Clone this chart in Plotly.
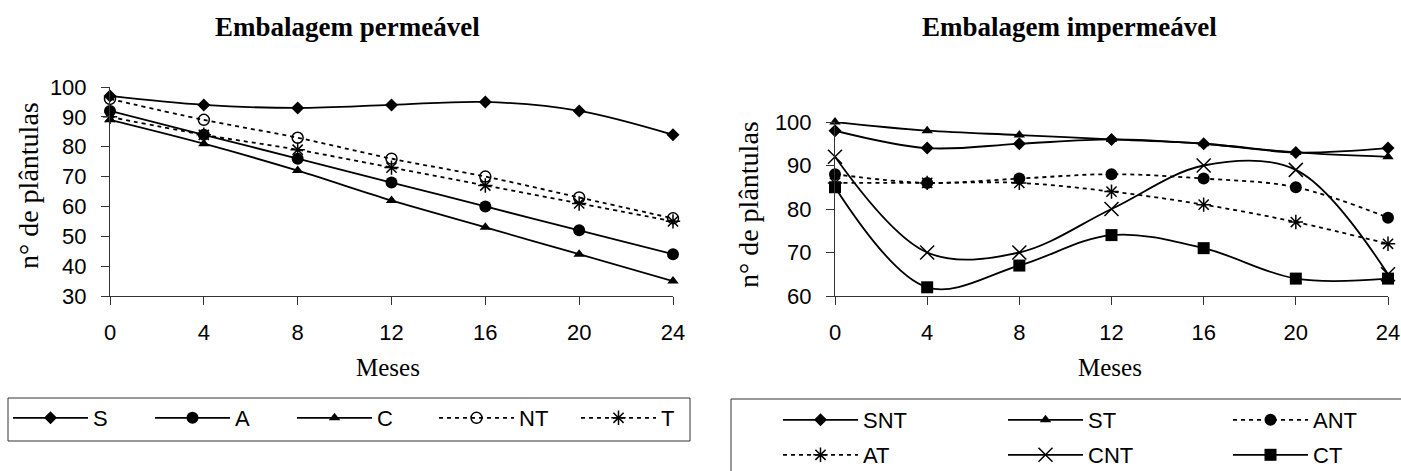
import plotly.graph_objects as go

# ---------------- data ----------------
meses = [0, 4, 8, 12, 16, 20, 24]

# Embalagem permeável
S = [97, 94, 93, 94, 95, 92, 84]
A = [92, 84, 76, 68, 60, 52, 44]
C = [89, 81, 72, 62, 53, 44, 35]
NT = [96, 89, 83, 76, 70, 63, 56]
T = [90, 84, 79, 73, 67, 61, 55]

# Embalagem impermeável
SNT = [98, 94, 95, 96, 95, 93, 94]
ST = [100, 98, 97, 96, 95, 93, 92]
ANT = [88, 86, 87, 88, 87, 85, 78]
AT = [86, 86, 86, 84, 81, 77, 72]
CNT = [92, 70, 70, 80, 90, 89, 65]
CT = [85, 62, 67, 74, 71, 64, 64]

x_ticks = [0, 4, 8, 12, 16, 20, 24]
y_ticks_left = [30, 40, 50, 60, 70, 80, 90, 100]
y_ticks_right = [60, 70, 80, 90, 100]

W, H = 1401, 471
SERIF = "Liberation Serif"
SANS = "Liberation Sans"


def px(x):
    return x / W


def py(y):
    return 1 - y / H


fig = go.Figure()

LW = 1.8
DASH = "4px,4px"


def add(name, xs, ys, symbol, size, dash, axis, legend, legendwidth=None, open_sym=False):
    xa, ya = axis
    marker = dict(symbol=symbol, size=size, color="black",
                  line=dict(color="black", width=1.5 if open_sym else 0))
    tr = go.Scatter(x=xs, y=ys, name=name, mode="lines+markers",
                    line=dict(color="black", width=LW, dash=dash, shape="spline", smoothing=1),
                    marker=marker, xaxis=xa, yaxis=ya, legend=legend,
                    cliponaxis=False)
    if legendwidth is not None:
        tr.legendwidth = legendwidth
    fig.add_trace(tr)


L = ("x", "y")
R = ("x2", "y2")
EW = 52
add("S", meses, S, "diamond", 10, "solid", L, "legend", EW)
add("A", meses, A, "circle", 12, "solid", L, "legend", EW)
add("C", meses, C, "triangle-up", 10, "solid", L, "legend", EW)
add("NT", meses, NT, "circle-open", 11, DASH, L, "legend", EW, open_sym=True)
add("T", meses, T, "asterisk-open", 12, DASH, L, "legend", 18, open_sym=True)

EW2 = 135
add("SNT", meses, SNT, "diamond", 10, "solid", R, "legend2", EW2)
add("ST", meses, ST, "triangle-up", 10, "solid", R, "legend2", EW2)
add("ANT", meses, ANT, "circle", 12, DASH, R, "legend2", EW2)
add("AT", meses, AT, "asterisk-open", 12, DASH, R, "legend3", EW2, open_sym=True)
add("CNT", meses, CNT, "x-thin-open", 14, "solid", R, "legend3", EW2, open_sym=True)
add("CT", meses, CT, "square", 12, "solid", R, "legend3", EW2)

axis_common = dict(showline=True, linecolor="#333", linewidth=1, ticks="outside",
                   ticklen=8, tickwidth=1, tickcolor="#333", showgrid=False,
                   zeroline=False, tickfont=dict(family=SANS, size=22, color="black"))

fig.update_layout(
    width=W, height=H,
    margin=dict(l=0, r=0, t=0, b=0, autoexpand=False),
    paper_bgcolor="white", plot_bgcolor="white",
    showlegend=True,
    xaxis=dict(domain=[px(110), px(673)], range=[0, 24], tickvals=x_ticks,
               anchor="y", ticklabelstandoff=9, **axis_common),
    yaxis=dict(domain=[py(296), py(87)], range=[30, 100], tickvals=y_ticks_left,
               anchor="x", ticklabelstandoff=10, **axis_common),
    xaxis2=dict(domain=[px(835), px(1388)], range=[0, 24], tickvals=x_ticks,
                anchor="y2", ticklabelstandoff=9, **axis_common),
    yaxis2=dict(domain=[py(296), py(122)], range=[60, 100], tickvals=y_ticks_right,
                anchor="x2", ticklabelstandoff=10, **axis_common),
    legend=dict(orientation="h", x=px(8), y=py(418), xanchor="left", yanchor="middle",
                itemwidth=75, borderwidth=0, bgcolor="rgba(0,0,0,0)",
                font=dict(family=SANS, size=22, color="black"), itemclick=False),
    legend2=dict(orientation="h", x=px(778), y=py(420), xanchor="left", yanchor="middle",
                 itemwidth=75, borderwidth=0, bgcolor="rgba(0,0,0,0)",
                 font=dict(family=SANS, size=22, color="black"), itemclick=False),
    legend3=dict(orientation="h", x=px(778), y=py(455), xanchor="left", yanchor="middle",
                 itemwidth=75, borderwidth=0, bgcolor="rgba(0,0,0,0)",
                 font=dict(family=SANS, size=22, color="black"), itemclick=False),
)

# legend frames
fig.add_shape(type="rect", xref="paper", yref="paper", x0=px(8), x1=px(690),
              y0=py(441), y1=py(398), line=dict(color="#333", width=1))
fig.add_shape(type="rect", xref="paper", yref="paper", x0=px(731), x1=px(1405),
              y0=py(480), y1=py(399), line=dict(color="#333", width=1))

ann = []
ann.append(dict(text="<b>Embalagem permeável</b>", x=px(347), y=py(27),
                font=dict(family=SERIF, size=27, color="black")))
ann.append(dict(text="<b>Embalagem impermeável</b>", x=px(1069), y=py(27),
                font=dict(family=SERIF, size=27, color="black")))
ann.append(dict(text="n° de plântulas", x=px(28), y=py(186), textangle=-90,
                font=dict(family=SERIF, size=28, color="black")))
ann.append(dict(text="n° de plântulas", x=px(748), y=py(205), textangle=-90,
                font=dict(family=SERIF, size=28, color="black")))
ann.append(dict(text="Meses", x=px(388), y=py(367),
                font=dict(family=SERIF, size=25, color="black")))
ann.append(dict(text="Meses", x=px(1110), y=py(367),
                font=dict(family=SERIF, size=25, color="black")))
for a in ann:
    a.update(xref="paper", yref="paper", showarrow=False, xanchor="center", yanchor="middle")
fig.update_layout(annotations=ann)

fig.write_html("out.html",
               config={"displayModeBar": False},
               post_script="document.body.style.margin='0';document.body.style.overflow='hidden';")
